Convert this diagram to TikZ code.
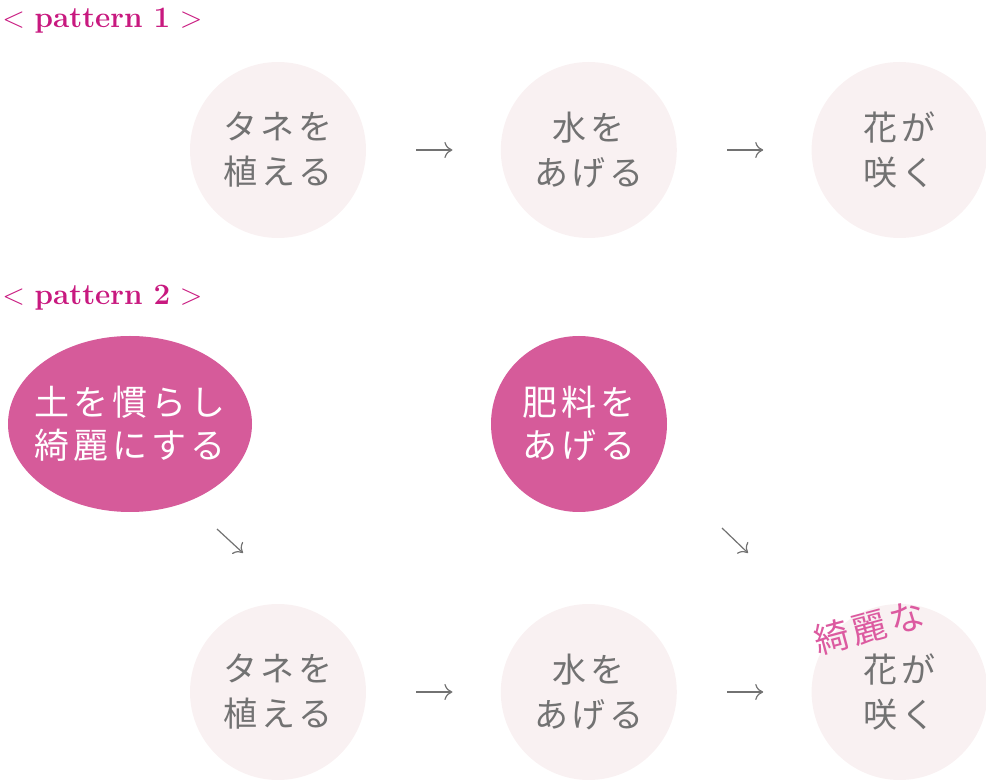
\documentclass[tikz,border=0pt]{standalone}
\usepackage{fontspec}
\usepackage{tikz}
\usetikzlibrary{shapes,arrows,arrows.meta,positioning}
\newfontfamily\jp[LetterSpace=11]{Noto Sans CJK JP}
\definecolor{tituloc}{HTML}{C8197F}
\definecolor{fondo}{HTML}{F9F1F2}
\definecolor{rosa}{HTML}{D65B9A}
\definecolor{rosanota}{HTML}{DC5AA0}
\definecolor{gris}{HTML}{727272}
\tikzset{
    titulo/.style={anchor=base west,inner sep=0pt,text=tituloc,font=\fontsize{14.8}{17}\selectfont},
    paso/.style={circle,fill=fondo,minimum size=88pt,inner sep=0pt,align=center,text=gris,font=\jp\fontsize{17}{22.5}\selectfont},
    extra/.style={fill=rosa,inner sep=0pt,align=center,text=white,font=\jp\fontsize{17.5}{21.5}\selectfont},
    nota/.style={inner sep=0pt,text=rosanota,font=\jp\fontsize{17.5}{20}\selectfont},
    flecha/.style={draw=gris,line width=0.6pt,-{To[length=4pt,width=8pt]}},
    corta/.style={shorten <=25pt,shorten >=24pt},
}

\begin{document}
\begin{tikzpicture}[x=0.5pt,y=-0.5pt]
\useasboundingbox (0,0) rectangle (986,780);

% pattern 1
\node[titulo] (t1) at (2,28) {< \textbf{pattern 1} >};
\node[paso]                  (a1) at (278,150) {タネを\\植える};
\node[paso,right=67pt of a1] (a2) {水を\\あげる};
\node[paso,right=67pt of a2] (a3) {花が\\咲く};
\draw[flecha,corta] (a1)--(a2);
\draw[flecha,corta] (a2)--(a3);

% pattern 2
\node[titulo] (t2) at (2,305) {< \textbf{pattern 2} >};
\node[extra,ellipse,inner xsep=-10pt,minimum width=122pt,minimum height=88pt] (tierra) at (130,424) {土を慣らし\\綺麗にする};
\node[extra,circle,minimum size=88pt] (abono) at (579,424) {肥料を\\あげる};

\node[paso]                  (b1) at (278,692) {タネを\\植える};
\node[paso,right=67pt of b1] (b2) {水を\\あげる};
\node[paso,right=67pt of b2] (b3) {花が\\咲く};
\node[nota,rotate=15] (bonito) at (869,627) {綺麗な};
\draw[flecha,corta] (b1)--(b2);
\draw[flecha,corta] (b2)--(b3);

\coordinate (d1) at (217,529);
\coordinate (d2) at (243,553);
\coordinate (d3) at (722,528);
\coordinate (d4) at (748,553);
\draw[flecha] (d1)--(d2);
\draw[flecha] (d3)--(d4);
\end{tikzpicture}
\end{document}
